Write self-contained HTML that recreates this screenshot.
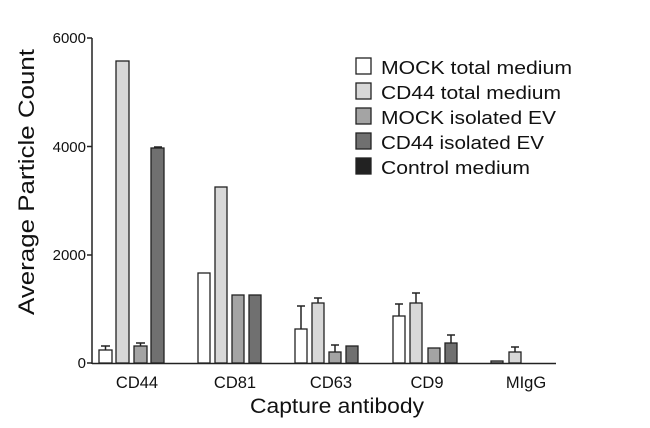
<!DOCTYPE html>
<html><head><style>body{margin:0;background:#fff}svg{display:block}text{font-family:"Liberation Sans",Arial,sans-serif;fill:#111}</style></head>
<body>
<svg width="650" height="428" viewBox="0 0 650 428">
<g stroke="#222" stroke-width="1.5">
<line x1="92" y1="38" x2="92" y2="364"/>
<line x1="92" y1="363.5" x2="556" y2="363.5"/>
<line x1="87" y1="38" x2="92" y2="38"/>
<line x1="87" y1="146.5" x2="92" y2="146.5"/>
<line x1="87" y1="255" x2="92" y2="255"/>
<line x1="87" y1="363" x2="92" y2="363"/>
</g>
<g font-size="15" text-anchor="end">
<text x="86" y="43">6000</text><text x="86" y="152">4000</text><text x="86" y="260">2000</text><text x="86" y="368">0</text>
</g>
<text transform="translate(34,182) rotate(-90)" font-size="22" text-anchor="middle" textLength="266" lengthAdjust="spacingAndGlyphs">Average Particle Count</text>
<g font-size="16.5" text-anchor="middle">
<text x="137" y="388">CD44</text><text x="235" y="388">CD81</text><text x="331" y="388">CD63</text><text x="427" y="388">CD9</text><text x="526" y="388">MIgG</text>
</g>
<text x="337" y="413" font-size="21" text-anchor="middle" textLength="174" lengthAdjust="spacingAndGlyphs">Capture antibody</text>
<g stroke="#222" stroke-width="1.5">
<line x1="105.5" y1="350" x2="105.5" y2="346"/><line x1="101" y1="346" x2="110" y2="346"/>
<line x1="140.5" y1="346" x2="140.5" y2="343"/><line x1="136" y1="343" x2="145" y2="343"/>
<line x1="154" y1="147" x2="162" y2="147"/>
<line x1="301" y1="329" x2="301" y2="306"/><line x1="297" y1="306" x2="305" y2="306"/>
<line x1="318" y1="303" x2="318" y2="298"/><line x1="314" y1="298" x2="322" y2="298"/>
<line x1="335" y1="352" x2="335" y2="345"/><line x1="331" y1="345" x2="339" y2="345"/>
<line x1="399" y1="316" x2="399" y2="304"/><line x1="395" y1="304" x2="403" y2="304"/>
<line x1="416" y1="303" x2="416" y2="293"/><line x1="412" y1="293" x2="420" y2="293"/>
<line x1="451" y1="343" x2="451" y2="335"/><line x1="447" y1="335" x2="455" y2="335"/>
<line x1="515" y1="352" x2="515" y2="347"/><line x1="511" y1="347" x2="519" y2="347"/>
</g>
<g stroke="#222" stroke-width="1.3">
<rect x="99" y="350" width="13" height="13" fill="#fff"/>
<rect x="116" y="61" width="13" height="302" fill="#d8d8d8"/>
<rect x="134" y="346" width="13" height="17" fill="#a4a4a4"/>
<rect x="151" y="148" width="13" height="215" fill="#707070"/>
<rect x="198" y="273" width="12" height="90" fill="#fff"/>
<rect x="215" y="187" width="12" height="176" fill="#d8d8d8"/>
<rect x="232" y="295" width="12" height="68" fill="#a4a4a4"/>
<rect x="249" y="295" width="12" height="68" fill="#707070"/>
<rect x="295" y="329" width="12" height="34" fill="#fff"/>
<rect x="312" y="303" width="12" height="60" fill="#d8d8d8"/>
<rect x="329" y="352" width="12" height="11" fill="#a4a4a4"/>
<rect x="346" y="346" width="12" height="17" fill="#707070"/>
<rect x="393" y="316" width="12" height="47" fill="#fff"/>
<rect x="410" y="303" width="12" height="60" fill="#d8d8d8"/>
<rect x="428" y="348" width="12" height="15" fill="#a4a4a4"/>
<rect x="445" y="343" width="12" height="20" fill="#707070"/>
<rect x="491" y="361" width="12" height="2" fill="#a4a4a4"/>
<rect x="509" y="352" width="12" height="11" fill="#d8d8d8"/>
</g>
<g stroke="#222" stroke-width="1.3">
<rect x="356" y="58" width="15" height="16" fill="#fff"/>
<rect x="356" y="83" width="15" height="16" fill="#d8d8d8"/>
<rect x="356" y="108" width="15" height="16" fill="#a4a4a4"/>
<rect x="356" y="133" width="15" height="16" fill="#707070"/>
<rect x="356" y="158" width="15" height="16" fill="#222"/>
</g>
<g font-size="18.5">
<text x="381" y="74" textLength="191" lengthAdjust="spacingAndGlyphs">MOCK total medium</text>
<text x="381" y="99" textLength="180" lengthAdjust="spacingAndGlyphs">CD44 total medium</text>
<text x="381" y="124" textLength="175" lengthAdjust="spacingAndGlyphs">MOCK isolated EV</text>
<text x="381" y="149" textLength="163" lengthAdjust="spacingAndGlyphs">CD44 isolated EV</text>
<text x="381" y="174" textLength="149" lengthAdjust="spacingAndGlyphs">Control medium</text>
</g>
</svg>
</body></html>
